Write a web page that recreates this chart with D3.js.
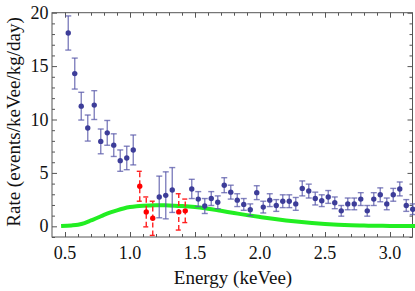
<!DOCTYPE html>
<html>
<head>
<meta charset="utf-8">
<script src="https://cdn.jsdelivr.net/npm/d3@7"></script>
<style>
  body { margin: 0; background: #fff; }
  svg { display: block; }
</style>
</head>
<body>
<svg width="415" height="291"></svg>
<script>
// measured rate, blue points
const blueE = [0.525, 0.575, 0.625, 0.675, 0.725, 0.775, 0.825, 0.875, 0.925, 0.975, 1.025,
  1.225, 1.275, 1.325, 1.475, 1.525, 1.575, 1.625, 1.675, 1.725, 1.775, 1.825, 1.875, 1.925,
  1.975, 2.025, 2.075, 2.125, 2.175, 2.225, 2.275, 2.325, 2.375, 2.425, 2.475, 2.525, 2.575,
  2.625, 2.675, 2.725, 2.775, 2.825, 2.875, 2.925, 2.975, 3.025, 3.075, 3.125, 3.175];
const blueRate = [18.1, 14.3, 11.25, 9.2, 11.35, 7.95, 8.75, 7.6, 6.15, 6.4, 7.15,
  2.75, 2.9, 3.4, 3.5, 2.55, 1.9, 2.6, 2.25, 3.85, 3.2, 2.45, 2.05, 1.55,
  3.15, 1.8, 2.45, 1.95, 2.35, 2.35, 2.1, 3.55, 3.3, 2.6, 2.4, 2.75, 2.2,
  1.45, 2.1, 2.1, 2.55, 1.45, 2.55, 2.95, 2.1, 2.95, 3.5, 1.95, 1.6];
const blueErr = [1.6, 1.45, 1.3, 1.22, 1.35, 1.16, 1.16, 1.06, 1.0, 1.1, 1.4,
  1.95, 2.2, 2.1, 0.9, 0.7, 0.7, 0.65, 0.6, 0.7, 0.65, 0.6, 0.55, 0.55,
  0.65, 0.55, 0.6, 0.55, 0.6, 0.6, 0.6, 0.7, 0.65, 0.6, 0.55, 0.6, 0.55,
  0.5, 0.55, 0.55, 0.6, 0.5, 0.6, 0.65, 0.55, 0.6, 0.65, 0.55, 0.5];

// red points
const redE = [1.075, 1.125, 1.175, 1.375, 1.425];
const redRate = [3.75, 1.35, 0.75, 1.35, 1.45];
const redErr = [1.4, 1.4, 1.6, 1.7, 1.1];

// green model curve
const curveE = [0.47, 0.55, 0.6, 0.65, 0.7, 0.75, 0.8, 0.85, 0.9, 0.95, 1.0, 1.05, 1.1, 1.2, 1.3,
  1.4, 1.5, 1.6, 1.7, 1.8, 1.9, 2.0, 2.1, 2.2, 2.3, 2.4, 2.5, 2.6, 2.7, 2.8, 2.9, 3.0, 3.2];
const curveRate = [0.02, 0.08, 0.15, 0.3, 0.55, 0.8, 1.07, 1.3, 1.5, 1.67, 1.8, 1.88, 1.93, 1.97, 1.96,
  1.9, 1.8, 1.65, 1.45, 1.25, 1.05, 0.87, 0.7, 0.55, 0.42, 0.31, 0.22, 0.15, 0.1, 0.07, 0.05, 0.04, 0.03];

const xMajor = [0.5, 1.0, 1.5, 2.0, 2.5, 3.0];
const yMajor = [0, 5, 10, 15, 20];

const FONT = "Liberation Serif";

const svg = d3.select("svg");
const L = 52, R = 412.5, T = 12.7, B = 237;

const x = d3.scaleLinear().domain([0.4, 3.173]).range([L, R]);
const y = d3.scaleLinear().domain([-1, 20]).range([B, T]);

const xMinor = d3.range(4, 32).map(d => d / 10).filter(d => x(d) > L && x(d) < R);
const yMinor = d3.range(-1, 21).filter(d => d % 5 !== 0);

const frameCol = "#555";

// ticks, all four sides pointing in
function ticks(axis, vals, size, tr) {
  const g = svg.append("g").attr("transform", tr)
    .call(axis.tickValues(vals).tickSize(size).tickFormat(""));
  g.select(".domain").remove();
  g.selectAll("line").attr("stroke", frameCol);
}
ticks(d3.axisBottom(x), xMajor, -5, `translate(0,${B})`);
ticks(d3.axisBottom(x), xMinor, -3, `translate(0,${B})`);
ticks(d3.axisTop(x), xMajor, -5, `translate(0,${T})`);
ticks(d3.axisTop(x), xMinor, -3, `translate(0,${T})`);
ticks(d3.axisLeft(y), yMajor, -5, `translate(${L},0)`);
ticks(d3.axisLeft(y), yMinor, -3, `translate(${L},0)`);
ticks(d3.axisRight(y), yMajor, -5, `translate(${R},0)`);
ticks(d3.axisRight(y), yMinor, -3, `translate(${R},0)`);

svg.append("rect").attr("x", L).attr("y", T).attr("width", R - L).attr("height", B - T)
  .attr("fill", "none").attr("stroke", frameCol).attr("stroke-width", 1);

// tick labels
svg.append("g").selectAll("text").data(xMajor).join("text")
  .attr("x", d => x(d)).attr("y", 258.5)
  .attr("font-family", FONT).attr("fill", "#111")
  .attr("text-anchor", "middle").attr("font-size", 18)
  .text(d => d.toFixed(1));
svg.append("g").selectAll("text").data(yMajor).join("text")
  .attr("x", 48.5).attr("y", d => y(d) + 6)
  .attr("font-family", FONT).attr("fill", "#111")
  .attr("text-anchor", "end").attr("font-size", 18)
  .text(d => d);

svg.append("text").attr("x", 233).attr("y", 283.5).attr("text-anchor", "middle")
  .attr("font-family", FONT).attr("fill", "#111")
  .attr("font-size", 19).text("Energy (keVee)");
svg.append("text").attr("transform", "translate(19.5,122) rotate(-90)")
  .attr("font-family", FONT).attr("fill", "#111")
  .attr("text-anchor", "middle").attr("font-size", 19).text("Rate (events/keVee/kg/day)");

// green curve
const line = d3.line().x((d, i) => x(curveE[i])).y(d => y(d)).curve(d3.curveMonotoneX);
svg.append("path").datum(curveRate).attr("d", line)
  .attr("fill", "none").attr("stroke", "#22ee22").attr("stroke-width", 4);

// error bars
function errBars(E, V, S, col, dash, op) {
  const g = svg.append("g").attr("stroke", col).attr("stroke-width", 1.4)
    .attr("stroke-opacity", op).attr("stroke-dasharray", dash);
  E.forEach((e, i) => {
    const cx = x(e), y0 = y(V[i] - S[i]), y1 = y(V[i] + S[i]);
    g.append("line").attr("x1", cx).attr("x2", cx).attr("y1", y0).attr("y2", y1);
    g.append("line").attr("x1", cx - 3).attr("x2", cx + 3).attr("y1", y0).attr("y2", y0);
    g.append("line").attr("x1", cx - 3).attr("x2", cx + 3).attr("y1", y1).attr("y2", y1);
  });
}
errBars(blueE, blueRate, blueErr, "#5a5aaa", null, 0.75);
errBars(redE, redRate, redErr, "#ff2020", "5,3", 1);

svg.append("g").selectAll("circle").data(blueRate).join("circle")
  .attr("cx", (d, i) => x(blueE[i])).attr("cy", d => y(d)).attr("r", 2.7)
  .attr("fill", "#3d3d99");
svg.append("g").selectAll("circle").data(redRate).join("circle")
  .attr("cx", (d, i) => x(redE[i])).attr("cy", d => y(d)).attr("r", 2.7)
  .attr("fill", "#ff0000");
</script>
</body>
</html>
